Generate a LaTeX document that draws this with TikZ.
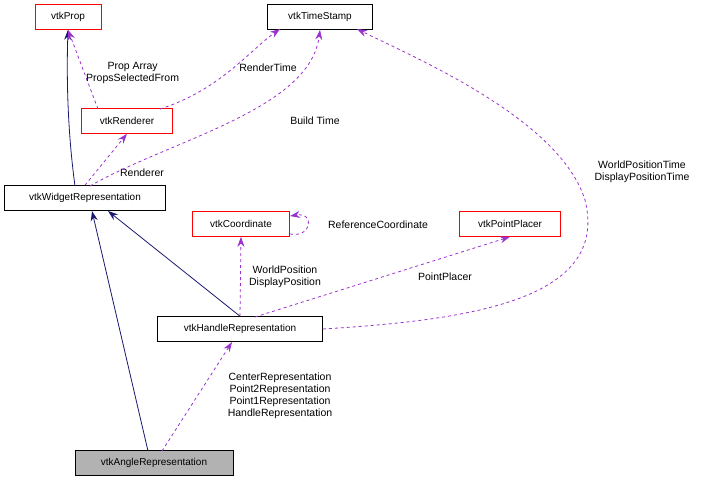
\documentclass[tikz,border=0pt]{standalone}
\usepackage{fontspec}
\setmainfont{Liberation Sans}
\usetikzlibrary{arrows.meta}
\definecolor{navy}{RGB}{25,25,112}
\definecolor{violet}{RGB}{154,50,205}
\begin{document}
\begin{tikzpicture}[x=1pt,y=-1pt,
  cls/.style={draw, fill=white, font=\fontsize{10}{11}\selectfont, minimum height=25pt, inner xsep=4pt, line width=0.6pt},
  red cls/.style={cls, draw=red},
  inherit/.style={draw=navy, line width=0.8pt, -{Stealth[length=10pt,width=7pt]}},
  usage/.style={draw=violet, dashed, line width=0.8pt, -{Stealth[length=10pt,width=7pt]}},
  lbl/.style={font=\fontsize{10.5}{12}\selectfont, align=center}]
\useasboundingbox (0,0) rectangle (705,483);
\node[red cls, minimum width=66pt] (prop) at (68,17) {vtkProp};
\node[cls, minimum width=105pt] (stamp) at (320,17) {vtkTimeStamp};
\node[red cls, minimum width=91pt] (renderer) at (127,121) {vtkRenderer};
\node[cls, minimum width=161pt] (widget) at (85,198) {vtkWidgetRepresentation};
\node[red cls, minimum width=97pt] (coord) at (241,224) {vtkCoordinate};
\node[red cls, minimum width=101pt] (placer) at (510,224) {vtkPointPlacer};
\node[cls, minimum width=165pt] (handle) at (240,329) {vtkHandleRepresentation};
\node[cls, fill=gray!60, minimum width=158pt] (angle) at (154,463) {vtkAngleRepresentation};

\coordinate (w1) at (75,186);
\draw[inherit] (w1) .. controls (66,120) and (67,60) .. (prop.south);
\draw[usage] (98,109) -- (prop.south) node[lbl, pos=0.45, right=-2pt] {Prop Array\\PropsSelectedFrom};
\draw[usage] (160,109) .. controls (220,90) and (250,50) .. (280,29);
\node[lbl] at (268,68) {RenderTime};
\draw[usage] (widget.north) -- (renderer.south) node[lbl] at (142,173) {Renderer};
\draw[usage] (90,186) .. controls (170,140) and (310,110) .. (stamp.south) node[lbl] at (315,121) {Build Time};
\draw[inherit] (handle.north) -- (108,211);
\draw[usage] (handle.north) -- (coord.south) node[lbl] at (285,277) {WorldPosition\\DisplayPosition};
\draw[usage] (290,234) .. controls (312,238) and (315,212) .. (290,216);
\node[lbl] at (378,225) {ReferenceCoordinate};
\draw[usage] (255,317) -- (placer.south) node[lbl] at (445,277) {PointPlacer};
\draw[usage] (handle.east) .. controls (470,320) and (610,300) .. (585,200) .. controls (560,120) and (420,60) .. (357,29);
\node[lbl] at (642,172) {WorldPositionTime\\DisplayPositionTime};
\draw[inherit] (148,451) -- (92,211);
\draw[usage] (162,451) -- (232,342) node[lbl] at (280,396) {CenterRepresentation\\Point2Representation\\Point1Representation\\HandleRepresentation};
\end{tikzpicture}
\end{document}
